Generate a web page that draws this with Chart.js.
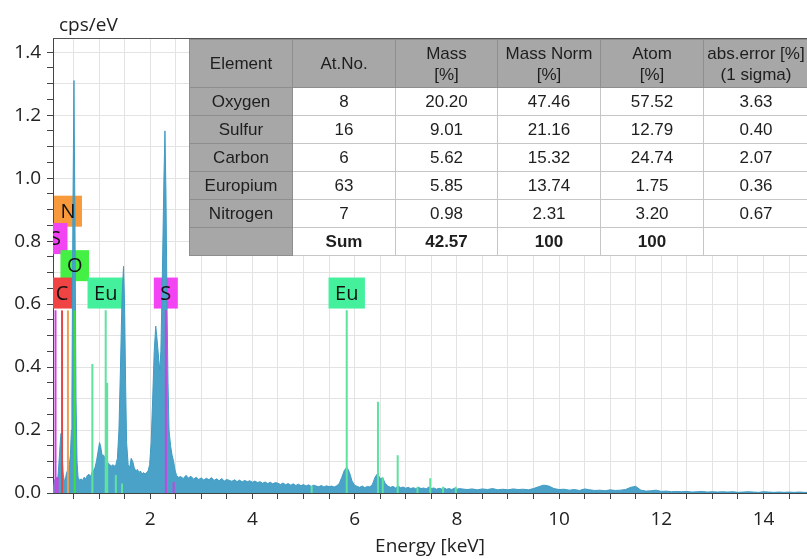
<!DOCTYPE html>
<html><head><meta charset="utf-8">
<script src="https://cdn.jsdelivr.net/npm/chart.js@4.4.1/dist/chart.umd.min.js"></script>
<style>
html,body{margin:0;padding:0;background:#fff;}
#wrap{position:relative;width:807px;height:559px;overflow:hidden;}
#c{position:absolute;left:0;top:0;}
#tbl{position:absolute;left:189px;top:39px;border-collapse:collapse;table-layout:fixed;width:619px;
  font-family:'Liberation Sans',Arial,sans-serif;font-size:17px;color:#1e1e1e;}
#tbl td{text-align:center;vertical-align:middle;padding:0;border:1px solid #c6c6c6;background:#fff;height:27px;line-height:20px;white-space:nowrap;}
#tbl td.g{background:#a7a7a7;border-color:#8e8e8e;}
#tbl tr.h td{height:47px;line-height:21px;}
#tbl td.b{font-weight:bold;}
</style>
</head><body>
<div id="wrap">
<canvas id="c" width="807" height="559"></canvas>
<table id="tbl"><colgroup><col style="width:103px"><col style="width:103px"><col style="width:102px"><col style="width:103px"><col style="width:103px"><col style="width:105px"></colgroup><tbody id="tb"></tbody></table>
</div>
<script>
// ---------- spectrum (energy keV / cps per eV) ----------
const spectrumEnergy = [
 0.10,0.13,0.16,0.19,0.21,0.23,0.25,0.26,0.28,0.30,
 0.32,0.34,0.36,0.38,0.40,0.42,0.44,0.46,0.47,0.49,
 0.51,0.53,0.55,0.57,0.59,0.62,0.65,0.68,0.71,0.74,
 0.77,0.80,0.83,0.86,0.89,0.92,0.95,0.98,1.01,1.03,
 1.06,1.09,1.12,1.15,1.18,1.21,1.24,1.27,1.30,1.33,
 1.36,1.39,1.42,1.45,1.48,1.50,1.52,1.54,1.57,1.60,
 1.63,1.66,1.69,1.72,1.75,1.78,1.81,1.84,1.87,1.90,
 1.93,1.96,1.99,2.02,2.05,2.08,2.11,2.14,2.17,2.19,
 2.21,2.24,2.27,2.29,2.31,2.33,2.35,2.37,2.40,2.43,
 2.46,2.49,2.52,2.55,
 2.60,2.65,2.70,2.75,2.80,2.85,2.90,2.95,3.00,3.05,
 3.10,3.15,3.20,3.25,3.30,3.35,3.40,3.45,3.50,3.55,
 3.60,3.65,3.70,3.75,3.80,3.85,3.90,3.95,4.00,4.05,
 4.10,4.15,4.20,4.25,4.30,4.35,4.40,4.45,4.50,4.55,
 4.60,4.65,4.70,4.75,4.80,4.85,4.90,4.95,5.00,5.05,
 5.10,5.15,5.20,5.25,5.30,5.35,5.40,5.45,5.50,5.55,
 5.60,5.65,5.70,5.75,5.80,5.85,5.90,5.95,6.00,6.05,
 6.10,6.15,6.20,6.25,6.30,6.35,6.40,6.45,6.50,6.55,
 6.60,6.65,6.70,6.75,6.80,6.85,6.90,6.95,7.00,7.05,
 7.10,7.15,7.20,7.25,7.30,7.35,7.40,7.45,7.50,7.55,
 7.60,7.65,7.70,7.75,7.80,7.85,7.90,7.95,8.00,8.05,
 8.1,8.2,8.3,8.4,8.5,8.6,8.7,8.8,8.9,9.0,
 9.1,9.2,9.3,9.4,9.5,9.6,9.7,9.8,9.9,10.0,
 10.1,10.2,10.3,10.4,10.5,10.6,10.7,10.8,10.9,11.0,
 11.1,11.2,11.3,11.4,11.5,11.6,11.7,11.8,11.9,12.0,
 12.1,12.2,12.3,12.4,12.5,12.6,12.7,12.8,12.9,13.0,
 13.1,13.2,13.3,13.4,13.5,13.6,13.7,13.8,13.9,14.0,
 14.1,14.2,14.3,14.4,14.5,14.6,14.7,14.8,14.85
];
const spectrumCps = [
 0.01,0.04,0.05,0.04,0.08,0.13,0.18,0.19,0.12,0.06,
 0.04,0.04,0.06,0.07,0.08,0.09,0.12,0.20,0.30,0.90,
 1.31,0.85,0.30,0.10,0.05,0.04,0.045,0.04,0.05,0.045,
 0.055,0.06,0.05,0.065,0.07,0.08,0.10,0.13,0.16,0.15,
 0.12,0.12,0.11,0.10,0.095,0.09,0.085,0.09,0.085,0.09,
 0.11,0.20,0.40,0.62,0.72,0.60,0.35,0.16,0.09,0.08,
 0.11,0.10,0.08,0.07,0.075,0.065,0.07,0.06,0.065,0.06,
 0.065,0.07,0.09,0.16,0.30,0.45,0.53,0.48,0.42,0.39,
 0.45,0.70,1.00,1.15,0.95,0.60,0.35,0.20,0.15,0.12,
 0.10,0.07,0.055,0.05,
 0.052,0.046,0.056,0.048,0.053,0.044,0.050,0.043,0.048,0.041,
 0.047,0.042,0.049,0.040,0.045,0.039,0.046,0.038,0.043,0.040,
 0.037,0.042,0.036,0.041,0.035,0.040,0.036,0.039,0.034,0.038,
 0.033,0.036,0.031,0.035,0.030,0.034,0.029,0.033,0.031,0.027,
 0.032,0.026,0.030,0.025,0.029,0.024,0.028,0.023,0.027,0.022,
 0.026,0.021,0.025,0.022,0.020,0.024,0.019,0.023,0.020,0.022,
 0.019,0.023,0.030,0.050,0.072,0.082,0.065,0.038,0.025,0.021,
 0.018,0.022,0.017,0.021,0.019,0.028,0.050,0.062,0.045,0.048,
 0.030,0.022,0.018,0.021,0.016,0.022,0.017,0.019,0.015,0.018,
 0.014,0.017,0.013,0.018,0.014,0.016,0.013,0.019,0.014,0.016,
 0.012,0.015,0.013,0.016,0.012,0.014,0.011,0.015,0.012,0.014,
 0.013,0.011,0.013,0.010,0.013,0.011,0.014,0.010,0.012,0.010,
 0.013,0.011,0.012,0.010,0.014,0.020,0.025,0.022,0.014,0.011,
 0.012,0.009,0.011,0.008,0.013,0.010,0.008,0.009,0.007,0.010,
 0.008,0.009,0.011,0.018,0.021,0.009,0.006,0.007,0.009,0.005,
 0.006,0.004,0.005,0.004,0.005,0.003,0.004,0.005,0.003,0.004,
 0.003,0.004,0.003,0.004,0.002,0.003,0.004,0.003,0.002,0.004,
 0.003,0.002,0.003,0.002,0.003,0.002,0.003,0.002,0.002
];

// ---------- element line markers ----------
const markerElement = ['S','S','S','S','C','N','O','Eu','Eu','Eu','Eu','Eu','Eu','Eu','Eu','Eu','Eu','Eu','Eu','Eu','Eu'];
const markerEnergy  = [0.149,0.19,2.307,2.46,0.277,0.392,0.525,0.87,1.131,1.16,1.33,1.45,5.16,5.846,6.457,6.55,6.843,7.23,7.48,7.73,7.98];
const markerHeight  = [0.58,0.05,0.58,0.035,0.58,0.58,0.58,0.41,0.58,0.35,0.057,0.03,0.022,0.58,0.29,0.05,0.12,0.02,0.047,0.02,0.02];

// ---------- element labels ----------
const labelText   = ['N','S','O','C','Eu','S','Eu'];
const labelEnergy = [0.392,0.149,0.525,0.277,1.131,2.307,5.846];
const labelLevel  = [0.895,0.808,0.722,0.635,0.635,0.635,0.635];

// ---------- tick labels ----------
const xTickLabels = ['2','4','6','8','10','12','14'];
const yTickLabels = ['0.0','0.2','0.4','0.6','0.8','1.0','1.2','1.4'];

// ---------- quantification table ----------
const tableHeader = [['Element'],['At.No.'],['Mass','[%]'],['Mass Norm','[%]'],['Atom','[%]'],['abs.error [%]','(1 sigma)']];
const elementNames = ['Oxygen','Sulfur','Carbon','Europium','Nitrogen'];
const atomicNumber = ['8','16','6','63','7'];
const massPct      = ['20.20','9.01','5.62','5.85','0.98'];
const massNormPct  = ['47.46','21.16','15.32','13.74','2.31'];
const atomPct      = ['57.52','12.79','24.74','1.75','3.20'];
const absErrorPct  = ['3.63','0.40','2.07','0.36','0.67'];
const sumRow       = ['', 'Sum', '42.57', '100', '100', ''];

// build table
(function(){
  const tb = document.getElementById('tb');
  let html = '<tr class="h">' + tableHeader.map(h=>'<td class="g">'+h.join('<br>')+'</td>').join('') + '</tr>';
  elementNames.forEach((n,i)=>{
    html += '<tr><td class="g">'+n+'</td><td>'+atomicNumber[i]+'</td><td>'+massPct[i]+'</td><td>'+massNormPct[i]+'</td><td>'+atomPct[i]+'</td><td>'+absErrorPct[i]+'</td></tr>';
  });
  html += '<tr>' + sumRow.map((s,i)=> i===0 ? '<td class="g"></td>' : '<td class="b">'+s+'</td>').join('') + '</tr>';
  tb.innerHTML = html;
})();

const elementLineColor = {S:'#d040e0', C:'#e04848', N:'#eea050', O:'#40dd40', Eu:'#5ee29e'};
const elementBoxColor  = {S:'#f244f2', C:'#f04444', N:'#f8993c', O:'#44f044', Eu:'#44f09c'};
const FONT = "'Open Sans', 'Noto Sans', sans-serif";

const markerSets = Object.keys(elementLineColor).map(el=>{
  const pts = [];
  markerElement.forEach((m,i)=>{
    if (m!==el) return;
    pts.push({x:markerEnergy[i],y:0},{x:markerEnergy[i],y:markerHeight[i]},{x:markerEnergy[i],y:null});
  });
  return {label:el, data:pts, showLine:true, spanGaps:false, borderColor:elementLineColor[el], borderWidth:2,
          pointRadius:0, fill:false, order:0};
});

const overlay = {
  id:'overlay',
  beforeDatasetsDraw(chart){
    const {ctx, chartArea:a, scales:{x,y}} = chart;
    ctx.save(); ctx.beginPath(); ctx.rect(a.left,a.top,a.right-a.left,a.bottom-a.top); ctx.clip();
    ctx.font = '20px ' + FONT;
    labelText.forEach((t,i)=>{
      const cx = x.getPixelForValue(labelEnergy[i]), cy = y.getPixelForValue(labelLevel[i]);
      const w = ctx.measureText(t).width + 13, h = 31;
      ctx.fillStyle = elementBoxColor[t];
      ctx.fillRect(cx-w/2, cy-h/2, w, h);
    });
    ctx.restore();
  },
  afterDatasetsDraw(chart){
    const {ctx, chartArea:a, scales:{x,y}} = chart;
    ctx.save(); ctx.beginPath(); ctx.rect(a.left,a.top,a.right-a.left,a.bottom-a.top); ctx.clip();
    ctx.font = '20px ' + FONT; ctx.fillStyle = '#111'; ctx.textAlign='center'; ctx.textBaseline='middle';
    labelText.forEach((t,i)=>{
      ctx.fillText(t, x.getPixelForValue(labelEnergy[i]), y.getPixelForValue(labelLevel[i])+1);
    });
    ctx.restore();
  },
  afterDraw(chart){
    const {ctx, chartArea:a} = chart;
    ctx.save();
    ctx.strokeStyle = '#555'; ctx.lineWidth = 1;
    ctx.beginPath(); ctx.moveTo(a.left, a.top+0.5); ctx.lineTo(a.right, a.top+0.5); ctx.stroke();
    ctx.font = '19px ' + FONT; ctx.fillStyle = '#222'; ctx.textAlign='left'; ctx.textBaseline='alphabetic';
    ctx.fillText('cps/eV', a.left+6, 31);
    ctx.restore();
  }
};

new Chart(document.getElementById('c'), {
  type:'scatter',
  data:{ datasets:[
    ...markerSets,
    {label:'spectrum', data: spectrumEnergy.map((e,i)=>({x:e,y:spectrumCps[i]})), showLine:true,
     borderColor:'#3f9bc4', backgroundColor:'#4aa2c9', borderWidth:1, pointRadius:0, fill:'origin', order:10}
  ]},
  plugins:[overlay],
  options:{
    responsive:false, animation:false,
    layout:{padding:{top:38,left:0,right:0,bottom:0}},
    plugins:{legend:{display:false}, tooltip:{enabled:false}, title:{display:false}},
    scales:{
      x:{type:'linear', min:0.1, max:14.85,
         afterBuildTicks:(s)=>{ const t=[]; for(let k=1;k<=29;k++) t.push({value:k*0.5}); s.ticks=t; },
         afterFit:(s)=>{ s.height = 66; },
         grid:{color:'#e3e3e3', tickColor:'#444', tickLength:6, drawTicks:true},
         border:{color:'#444', width:1},
         ticks:{autoSkip:false, maxRotation:0, padding:9, color:'#222', font:{family:FONT, size:19},
                callback:(v)=>{ const r=Math.round(v*2); return (r%4===0 && r>0) ? xTickLabels[r/4-1] : ''; }},
         title:{display:true, text:'Energy [keV]', color:'#222', font:{family:FONT, size:19}, padding:{top:0,bottom:1}}
      },
      y:{type:'linear', min:0, max:1.445,
         afterBuildTicks:(s)=>{ const t=[]; for(let k=0;k<=28;k++) t.push({value:k*5/100}); s.ticks=t; },
         afterFit:(s)=>{ s.width = 53; },
         grid:{color:(c)=> (c.tick && Math.round(c.tick.value*100)%10===0) ? '#e3e3e3' : 'rgba(0,0,0,0)', tickColor:'#444', tickLength:6},
         border:{color:'#444', width:1},
         ticks:{autoSkip:false, padding:6, color:'#222', font:{family:FONT, size:19},
                callback:(v)=>{ const r=Math.round(v*100); return r%20===0 ? yTickLabels[r/20] : ''; }}
      }
    }
  }
});
</script>
</body></html>
